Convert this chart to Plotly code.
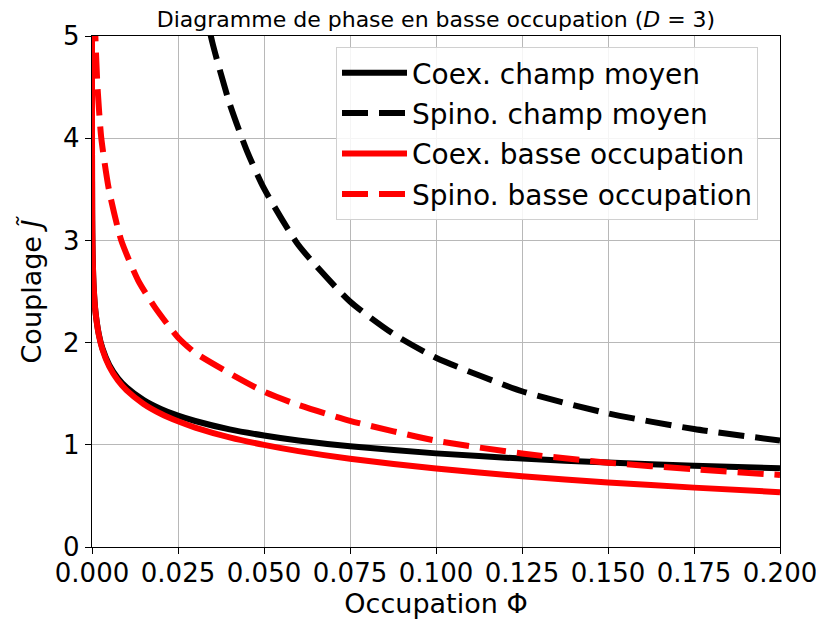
import plotly.graph_objects as go

# Occupation values (x) and coupling values (y)
phi_coex = [1e-7, 1e-6, 1e-5, 5e-5, 1e-4, 2e-4, 5e-4, 0.001, 0.002, 0.003, 0.005, 0.0075,
            0.01, 0.015, 0.02, 0.025, 0.03, 0.04, 0.05, 0.06, 0.075, 0.1, 0.125, 0.15, 0.175, 0.2]
coex_mf = [5.373, 4.605, 3.838, 3.301, 3.071, 2.840, 2.536, 2.307, 2.079, 1.947, 1.782, 1.653,
           1.563, 1.438, 1.351, 1.285, 1.233, 1.151, 1.091, 1.042, 0.985, 0.916, 0.865, 0.826, 0.795, 0.770]
coex_lo = [5.373, 4.605, 3.838, 3.301, 3.070, 2.839, 2.534, 2.303, 2.072, 1.936, 1.766, 1.631,
           1.535, 1.400, 1.304, 1.230, 1.169, 1.073, 0.999, 0.938, 0.863, 0.768, 0.693, 0.632, 0.581, 0.536]

phi_spino_mf = [0.03, 0.035, 0.04, 0.045, 0.05, 0.06, 0.075, 0.0875, 0.1, 0.125, 0.15, 0.175, 0.2]
spino_mf = [5.727, 4.935, 4.340, 3.878, 3.509, 2.955, 2.402, 2.087, 1.852, 1.524, 1.307, 1.154, 1.042]

phi_spino_lo = [0.0008, 0.00097, 0.0016, 0.0027, 0.0049, 0.0085, 0.0134, 0.0182, 0.025, 0.03,
                0.04, 0.05, 0.06, 0.075, 0.1, 0.125, 0.15, 0.175, 0.2]
spino_lo = [5.2, 5.0, 4.5, 4.0, 3.5, 3.0, 2.61, 2.35, 2.05, 1.90,
            1.70, 1.52, 1.39, 1.235, 1.04, 0.915, 0.825, 0.76, 0.705]

labels = ["Coex. champ moyen", "Spino. champ moyen",
          "Coex. basse occupation", "Spino. basse occupation"]

x_ticks = [0.0, 0.025, 0.05, 0.075, 0.1, 0.125, 0.15, 0.175, 0.2]
y_ticks = [0, 1, 2, 3, 4, 5]

FONT = "DejaVu Sans"
LW = 6
DASH = "26px,11px"

fig = go.Figure()
series = [
    (phi_coex, coex_mf, "black", "solid"),
    (phi_spino_mf, spino_mf, "black", DASH),
    (phi_coex, coex_lo, "red", "solid"),
    (phi_spino_lo, spino_lo, "red", DASH),
]
for i, (xs, ys, col, dash) in enumerate(series):
    fig.add_trace(go.Scatter(x=xs, y=ys, mode="lines", name=labels[i], legendgroup=str(i),
                             line=dict(color=col, width=LW, dash=dash, shape="spline", smoothing=0.6)))

axis_common = dict(
    showline=True, linecolor="black", linewidth=1.3, mirror=True,
    ticks="outside", ticklen=6, tickwidth=1.3, tickcolor="black",
    showgrid=True, gridcolor="#b8b8b8", gridwidth=1, zeroline=False,
    tickfont=dict(family=FONT, size=26, color="black"),
    automargin=False,
)

# the page body adds an 8px offset; margins compensate so the plot area lands at 92..780 x 36..547
fig.update_layout(
    width=824, height=628,
    margin=dict(l=84, r=52, t=28, b=89),
    paper_bgcolor="white", plot_bgcolor="white",
    font=dict(family=FONT, color="black"),
    title=dict(text="Diagramme de phase en basse occupation (<i>D</i> = 3)",
               x=0.5, xref="paper", xanchor="center",
               y=1 - 11 / 628, yref="container", yanchor="middle",
               font=dict(family=FONT, size=22, color="black")),
    xaxis=dict(range=[0, 0.2], tickvals=x_ticks, tickformat=".3f", ticklabelstandoff=-3,
               title=dict(text="Occupation Φ", font=dict(family=FONT, size=27), standoff=3),
               **axis_common),
    yaxis=dict(range=[0, 5], tickvals=y_ticks,
               title=dict(text="Couplage <i>J̃</i>", font=dict(family=FONT, size=27), standoff=13),
               **axis_common),
    legend=dict(x=(336 - 92) / 688, y=(547 - 47) / 511, xanchor="left", yanchor="top",
                bgcolor="rgba(255,255,255,0.85)", bordercolor="#d0d0d0", borderwidth=1,
                font=dict(family=FONT, size=28, color="black"),
                itemwidth=65, tracegroupgap=1),
    showlegend=True,
)

fig.write_html("out.html")
